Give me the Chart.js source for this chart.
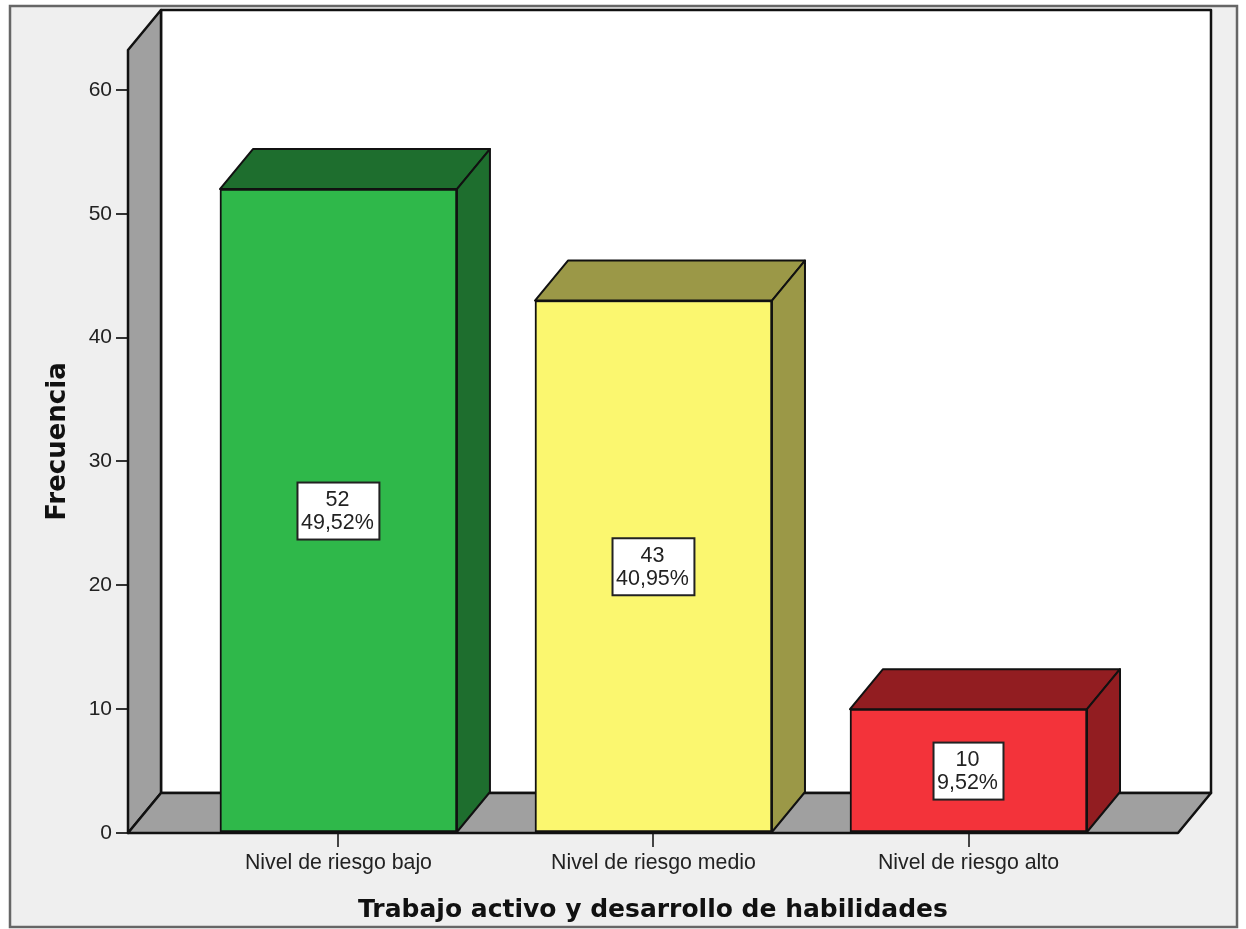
<!DOCTYPE html>
<html>
<head>
<meta charset="utf-8">
<title>Trabajo activo y desarrollo de habilidades</title>
<script src="https://cdn.jsdelivr.net/npm/chart.js@4"></script>
<style>
  html, body { margin: 0; padding: 0; background: #fff; }
  canvas { display: block; }
</style>
</head>
<body>
<canvas id="myChart" width="1246" height="929"></canvas>
<script>
const categories = ['Nivel de riesgo bajo', 'Nivel de riesgo medio', 'Nivel de riesgo alto'];
const frequencies = [52, 43, 10];
const percents = ['49,52%', '40,95%', '9,52%'];
const yTicks = [0, 10, 20, 30, 40, 50, 60];
const frontColors = ['#2fb84a', '#fbf76f', '#f3333a'];
const shadeColors = ['#1e6e2e', '#9b9847', '#921d21'];

const depthX = 33;
const depthY = 40;
const lineColor = '#111';
const fontName = '"Liberation Sans", Arial, sans-serif';

function polygon(ctx, pts, fill) {
  ctx.beginPath();
  pts.forEach((p, i) => i ? ctx.lineTo(p[0], p[1]) : ctx.moveTo(p[0], p[1]));
  ctx.closePath();
  ctx.fillStyle = fill;
  ctx.fill();
  ctx.stroke();
}

// frame, back wall and floor of the 3d box
const boxPlugin = {
  id: 'box',
  beforeDraw(chart) {
    const ctx = chart.ctx;
    ctx.save();
    ctx.fillStyle = '#efefef';
    ctx.strokeStyle = '#666';
    ctx.lineWidth = 2.5;
    ctx.fillRect(10, 6, 1227, 921);
    ctx.strokeRect(10, 6, 1227, 921);
    ctx.restore();
  },
  beforeDatasetsDraw(chart) {
    const ctx = chart.ctx;
    const a = chart.chartArea;
    ctx.save();
    ctx.strokeStyle = lineColor;
    ctx.lineWidth = 2.5;
    ctx.lineJoin = 'round';
    polygon(ctx, [[a.left + depthX, a.top - depthY], [a.right + depthX, a.top - depthY],
      [a.right + depthX, a.bottom - depthY], [a.left + depthX, a.bottom - depthY]], '#fff');
    polygon(ctx, [[a.left, a.top], [a.left + depthX, a.top - depthY],
      [a.left + depthX, a.bottom - depthY], [a.left, a.bottom]], '#a0a0a0');
    polygon(ctx, [[a.left, a.bottom], [a.left + depthX, a.bottom - depthY],
      [a.right + depthX, a.bottom - depthY], [a.right, a.bottom]], '#a0a0a0');
    // top and side faces of the bars
    ctx.lineWidth = 2;
    chart.getDatasetMeta(0).data.forEach((bar, i) => {
      const l = bar.x - bar.width / 2;
      const r = bar.x + bar.width / 2;
      polygon(ctx, [[l, bar.y], [l + depthX, bar.y - depthY], [r + depthX, bar.y - depthY], [r, bar.y]], shadeColors[i]);
      polygon(ctx, [[r, bar.y], [r + depthX, bar.y - depthY], [r + depthX, bar.base - depthY], [r, bar.base]], shadeColors[i]);
    });
    ctx.restore();
  },
  afterDatasetsDraw(chart) {
    const ctx = chart.ctx;
    const yScale = chart.scales.y;
    ctx.save();
    ctx.font = '21.5px ' + fontName;
    ctx.textAlign = 'center';
    ctx.textBaseline = 'middle';
    chart.getDatasetMeta(0).data.forEach((bar, i) => {
      const cy = yScale.getPixelForValue(frequencies[i] / 2);
      const w = ctx.measureText(percents[i]).width + 9;
      ctx.fillStyle = '#fff';
      ctx.strokeStyle = '#222';
      ctx.lineWidth = 2;
      ctx.fillRect(bar.x - w / 2, cy - 28.5, w, 57);
      ctx.strokeRect(bar.x - w / 2, cy - 28.5, w, 57);
      ctx.fillStyle = '#222';
      ctx.fillText(String(frequencies[i]), bar.x - 1, cy - 11);
      ctx.fillText(percents[i], bar.x - 1, cy + 12);
    });
    ctx.restore();
  }
};

const myChart = new Chart(document.getElementById('myChart'), {
  type: 'bar',
  data: {
    datasets: [{
      data: frequencies.map((v, i) => ({ x: i, y: v })),
      backgroundColor: frontColors,
      borderColor: lineColor,
      borderWidth: 2,
      borderSkipped: false,
      barThickness: 237
    }]
  },
  options: {
    responsive: false,
    animation: false,
    layout: { padding: { left: 0, top: 50, right: 68, bottom: 0 } },
    plugins: { legend: { display: false }, tooltip: { enabled: false } },
    scales: {
      x: {
        type: 'linear',
        offset: false,
        min: -0.668,
        max: 2.665,
        afterBuildTicks(scale) { scale.ticks = categories.map((c, i) => ({ value: i })); },
        afterFit(scale) { scale.height = 96; },
        grid: { offset: false, drawOnChartArea: false, drawTicks: true, tickLength: 14, tickColor: '#444', lineWidth: 2 },
        border: { display: false },
        ticks: {
          autoSkip: false, maxRotation: 0, padding: 3, color: '#222',
          font: { family: fontName, size: 21.3 },
          callback: v => categories[v]
        },
        title: {
          display: true,
          text: 'Trabajo activo y desarrollo de habilidades',
          color: '#111',
          font: { family: '"DejaVu Sans"', size: 25, weight: 'bold' },
          padding: { top: 0, bottom: 4 }
        }
      },
      y: {
        min: 0,
        max: 63.23,
        afterBuildTicks(scale) { scale.ticks = yTicks.map(v => ({ value: v })); },
        afterFit(scale) { scale.width = 128; },
        grid: { drawOnChartArea: false, drawTicks: true, tickLength: 12, tickColor: '#333', lineWidth: 2 },
        border: { display: false },
        ticks: { padding: 4, color: '#222', font: { family: fontName, size: 21 } },
        title: {
          display: true,
          text: 'Frecuencia',
          color: '#111',
          font: { family: '"DejaVu Sans"', size: 26, weight: 'bold' },
          padding: { top: 43, bottom: 0 }
        }
      }
    }
  },
  plugins: [boxPlugin]
});
</script>
</body>
</html>
